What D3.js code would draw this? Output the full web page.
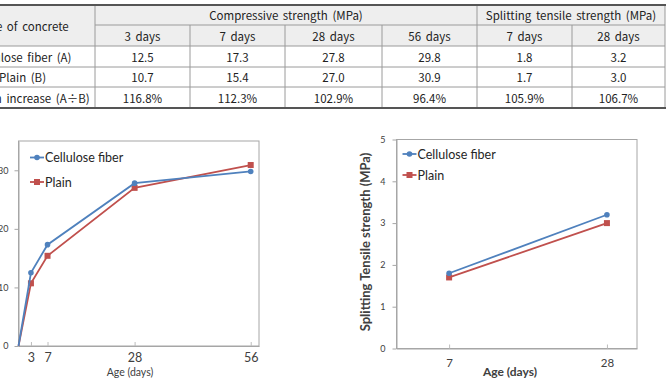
<!DOCTYPE html>
<html>
<head>
<meta charset="utf-8">
<script src="https://cdn.jsdelivr.net/npm/d3@7"></script>
<style>
  body { margin: 0; background: #fff; }
  svg { display: block; }
</style>
</head>
<body>
<div id="chart"></div>
<script>
// table data
const rowLabels = ["Cellulose fiber (A)", "Plain (B)", "Strength increase (A\u00F7B)"];
const groupLabels = ["Compressive strength (MPa)", "Splitting tensile strength (MPa)"];
const dayLabels = ["3 days", "7 days", "28 days", "56 days", "7 days", "28 days"];
const rowCellulose = ["12.5", "17.3", "27.8", "29.8", "1.8", "3.2"];
const rowPlain = ["10.7", "15.4", "27.0", "30.9", "1.7", "3.0"];
const rowIncrease = ["116.8%", "112.3%", "102.9%", "96.4%", "105.9%", "106.7%"];

// compressive strength chart
const compAges = [0, 3, 7, 28, 56];
const compCellulose = [0, 12.5, 17.3, 27.8, 29.8];
const compPlain = [0, 10.7, 15.4, 27.0, 30.9];
const compYTicks = [0, 10, 20, 30];
const compXTicks = [3, 7, 28, 56];

// splitting tensile chart
const splitAges = [7, 28];
const splitCellulose = [1.8, 3.2];
const splitPlain = [1.7, 3.0];
const splitYTicks = [0, 1, 2, 3, 4, 5];
const splitXTicks = [7, 28];

const seriesNames = ["Cellulose fiber", "Plain"];
const blue = "#4f81bd", red = "#c0504d";

const svg = d3.select("#chart").append("svg")
    .attr("width", 667).attr("height", 383);

svg.append("rect").attr("width", 667).attr("height", 383).attr("fill", "#fff");

// ---------- table ----------
var colX = [-50, 95, 190, 285, 382, 477, 572, 665];
var rowY = [5, 25, 46, 67, 87, 108];
var tfont = "'Noto Sans CJK KR', 'Noto Sans', sans-serif";
var table = svg.append("g").style("font-family", tfont).style("font-size", "11.5px").style("fill", "#222");

table.append("rect").attr("x", colX[0]).attr("y", rowY[0])
    .attr("width", colX[7] - colX[0]).attr("height", rowY[2] - rowY[0])
    .attr("fill", "#eeeeee");

function hline(x1, x2, yy, col, w) {
    table.append("line").attr("x1", x1).attr("x2", x2).attr("y1", yy).attr("y2", yy)
        .attr("stroke", col).attr("stroke-width", w);
}
function vline(xx, y1, y2) {
    table.append("line").attr("x1", xx).attr("x2", xx).attr("y1", y1).attr("y2", y2)
        .attr("stroke", "#9a9a9a").attr("stroke-width", 1);
}
function cell(txt, x1, x2, y1, y2) {
    table.append("text").attr("x", (x1 + x2) / 2).attr("y", (y1 + y2) / 2)
        .attr("text-anchor", "middle").attr("dominant-baseline", "central")
        .style("word-spacing", "2px")
        .text(txt);
}

hline(colX[1], colX[7], rowY[1], "#9a9a9a", 1);
hline(colX[0], colX[7], rowY[2], "#9a9a9a", 1);
hline(colX[0], colX[7], rowY[3], "#9a9a9a", 1);
hline(colX[0], colX[7], rowY[4], "#9a9a9a", 1);
vline(colX[1], rowY[0], rowY[5]);
vline(colX[5], rowY[0], rowY[5]);
vline(colX[7], rowY[0], rowY[5]);
[2, 3, 4, 6].forEach(function (i) { vline(colX[i], rowY[1], rowY[5]); });
hline(colX[0], colX[7] + 1, rowY[0], "#555", 2);
hline(colX[0], colX[7] + 1, rowY[5], "#555", 2);

cell("Type of concrete", colX[0], colX[1], rowY[0], rowY[2]);
cell(groupLabels[0], colX[1], colX[5], rowY[0], rowY[1]);
cell(groupLabels[1], colX[5], colX[7], rowY[0], rowY[1]);
dayLabels.forEach(function (d, i) { cell(d, colX[i + 1], colX[i + 2], rowY[1], rowY[2]); });
[rowCellulose, rowPlain, rowIncrease].forEach(function (row, r) {
    cell(rowLabels[r], colX[0], colX[1], rowY[r + 2], rowY[r + 3]);
    row.forEach(function (v, i) { cell(v, colX[i + 1], colX[i + 2], rowY[r + 2], rowY[r + 3]); });
});

// ---------- charts ----------
var cfont = "Lato, 'Open Sans', sans-serif";

function drawChart(opt) {
    var g = svg.append("g").style("font-family", cfont);
    var x = d3.scaleLinear().domain(opt.xDomain).range([opt.left, opt.right]);
    var y = d3.scaleLinear().domain(opt.yDomain).range([opt.bottom, opt.top]);

    g.append("rect").attr("x", opt.left).attr("y", opt.top)
        .attr("width", opt.right - opt.left).attr("height", opt.bottom - opt.top)
        .attr("fill", "none").attr("stroke", "#a6a6a6").attr("stroke-width", 1);

    var ya = g.append("g").attr("transform", `translate(${opt.left},0)`)
        .call(d3.axisLeft(y).tickValues(opt.yTicks).tickFormat(d3.format("d"))
            .tickSize(4).tickPadding(opt.yPad).tickSizeOuter(0));
    ya.select(".domain").attr("stroke", "#a6a6a6");
    ya.selectAll(".tick line").attr("stroke", "#a6a6a6");
    ya.selectAll("text").style("font-size", opt.yFont + "px").style("fill", "#404040").attr("font-family", cfont);

    var xa = g.append("g").attr("transform", `translate(0,${opt.bottom})`)
        .call(d3.axisBottom(x).tickValues(opt.xTicks).tickFormat(d3.format("d"))
            .tickSizeInner(-4).tickSizeOuter(0).tickPadding(opt.xPad));
    xa.select(".domain").attr("stroke", "#a6a6a6");
    xa.selectAll(".tick line").attr("stroke", "#bdbdbd");
    xa.selectAll("text").style("font-size", opt.xFont + "px").style("fill", "#404040").attr("font-family", cfont);

    g.append("text").attr("x", opt.xTitleX).attr("y", opt.xTitleY)
        .attr("text-anchor", "middle")
        .style("font-size", opt.xTitleSize + "px")
        .style("font-weight", opt.bold ? "bold" : "normal")
        .style("fill", "#404040")
        .text("Age (days)");

    if (opt.yTitle) {
        g.append("text")
            .attr("transform", `translate(${opt.yTitleX},${opt.yTitleY}) rotate(-90)`)
            .attr("text-anchor", "middle").attr("dominant-baseline", "central")
            .style("font-size", "13px").style("font-weight", "bold").style("fill", "#404040")
            .text(opt.yTitle);
    }

    var line = d3.line().x(d => x(d[0])).y(d => y(d[1]));
    var series = [
        {name: seriesNames[0], color: blue, shape: "circle", vals: opt.s1},
        {name: seriesNames[1], color: red, shape: "square", vals: opt.s2}
    ];
    // plain first, cellulose drawn over it
    series.slice().reverse().forEach(function (s) {
        var pts = opt.ages.map((a, i) => [a, s.vals[i]]);
        g.append("path").attr("d", line(pts)).attr("fill", "none")
            .attr("stroke", s.color).attr("stroke-width", 1.8);
        pts.filter(p => p[0] > 0).forEach(function (p) {
            drawMarker(g, s, x(p[0]), y(p[1]));
        });
    });

    series.forEach(function (s, i) {
        var ly = opt.legY + i * opt.legGap;
        g.append("line").attr("x1", opt.legX).attr("x2", opt.legX + 14)
            .attr("y1", ly).attr("y2", ly).attr("stroke", s.color).attr("stroke-width", 1.8);
        drawMarker(g, s, opt.legX + 7, ly);
        g.append("text").attr("x", opt.legX + 15).attr("y", ly)
            .attr("dominant-baseline", "central")
            .style("font-size", "12.5px").style("fill", "#262626")
            .text(s.name);
    });
}

function drawMarker(g, s, cx, cy) {
    if (s.shape == "circle") {
        g.append("circle").attr("cx", cx).attr("cy", cy).attr("r", 2.8).attr("fill", s.color);
    } else {
        g.append("rect").attr("x", cx - 3).attr("y", cy - 3).attr("width", 6).attr("height", 6).attr("fill", s.color);
    }
}

drawChart({
    xDomain: [0, 58], yDomain: [0, 35],
    left: 18.5, right: 259, top: 141, bottom: 346,
    yTicks: compYTicks, xTicks: compXTicks,
    yPad: 6, xPad: 7, yFont: 9, xFont: 12.5,
    xTitleX: 130, xTitleY: 376, xTitleSize: 10.5, bold: false,
    ages: compAges, s1: compCellulose, s2: compPlain,
    legX: 30, legY: 157.5, legGap: 24.5
});

drawChart({
    xDomain: [0, 32], yDomain: [0, 5],
    left: 396.5, right: 637, top: 139.5, bottom: 348.5,
    yTicks: splitYTicks, xTicks: splitXTicks,
    yPad: 7, xPad: 10, yFont: 9, xFont: 11.5,
    xTitleX: 510, xTitleY: 376, xTitleSize: 12, bold: true,
    yTitle: "Splitting Tensile strength (MPa)", yTitleX: 365, yTitleY: 242,
    ages: splitAges, s1: splitCellulose, s2: splitPlain,
    legX: 402.5, legY: 154, legGap: 21
});
</script>
</body>
</html>
